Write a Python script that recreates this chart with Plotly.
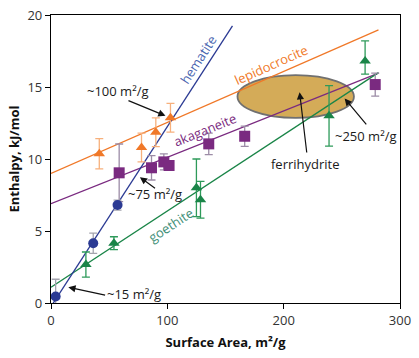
import plotly.graph_objects as go

# ---------------- data ----------------
hem_x = [4.0, 36.3, 57.2]
hem_y = [0.45, 4.15, 6.8]
hem_err = [1.2, 0.7, 0.35]

lep_x = [41.5, 77.8, 90.1, 102.7]
lep_y = [10.36, 10.8, 11.86, 12.86]
lep_err = [1.05, 1.0, 1.0, 1.0]

aka_x = [58.6, 86.4, 97.0, 101.5, 135.6, 166.5, 278.7]
aka_y = [9.04, 9.39, 9.8, 9.55, 11.05, 11.58, 15.17]
aka_err = [2.0, 0.85, 0.55, 0.3, 0.75, 0.7, 0.8]

goe_x = [30.0, 54.1, 125.0, 128.5, 239.0, 270.0]
goe_y = [2.67, 4.15, 8.0, 7.17, 13.0, 16.8]
goe_err_plus = [0.87, 0.45, 2.0, 1.27, 2.1, 1.4]
goe_err_minus = [0.87, 0.45, 2.0, 1.27, 2.1, 0.9]

# fitted lines (end points)
hem_fit_x = [0, 156]
hem_fit_y = [-0.25, 19.25]
lep_fit_x = [0, 281.5]
lep_fit_y = [9.0, 18.97]
aka_fit_x = [0, 281.5]
aka_fit_y = [6.9, 15.96]
goe_fit_x = [0, 281.5]
goe_fit_y = [1.1, 16.0]

# ferrihydrite region (ellipse bounds)
fh_x = [160.3, 260.4]
fh_y = [12.85, 15.83]

x_ticks = [0, 100, 200, 300]
y_ticks = [0, 5, 10, 15, 20]

# ---------------- style ----------------
C_HEM = "#2b3a93"
C_LEP = "#f07828"
C_AKA = "#7a2a80"
C_GOE = "#1a8548"
FONT = "Open Sans"

fig = go.Figure()

# lines
for fx, fy, c in [(lep_fit_x, lep_fit_y, C_LEP), (aka_fit_x, aka_fit_y, C_AKA),
                  (goe_fit_x, goe_fit_y, C_GOE), (hem_fit_x, hem_fit_y, C_HEM)]:
    fig.add_trace(go.Scatter(x=fx, y=fy, mode="lines",
                             line=dict(color=c, width=1.3), hoverinfo="skip"))

# points
fig.add_trace(go.Scatter(x=lep_x, y=lep_y, mode="markers",
                         marker=dict(symbol="triangle-up", size=10, color=C_LEP),
                         error_y=dict(type="data", array=lep_err, color="#f7b07c",
                                      thickness=1.3, width=4)))
fig.add_trace(go.Scatter(x=aka_x, y=aka_y, mode="markers",
                         marker=dict(symbol="square", size=11, color=C_AKA),
                         error_y=dict(type="data", array=aka_err, color="#9c8ca6",
                                      thickness=1.3, width=4)))
fig.add_trace(go.Scatter(x=goe_x, y=goe_y, mode="markers",
                         marker=dict(symbol="triangle-up", size=10, color=C_GOE),
                         error_y=dict(type="data", symmetric=False, array=goe_err_plus,
                                      arrayminus=goe_err_minus, color="#2e9a5a",
                                      thickness=1.3, width=4)))
fig.add_trace(go.Scatter(x=hem_x, y=hem_y, mode="markers",
                         marker=dict(symbol="circle", size=10, color=C_HEM),
                         error_y=dict(type="data", array=hem_err, color="#a4a4ae",
                                      thickness=1.3, width=4)))

# ferrihydrite ellipse
fig.add_shape(type="circle", xref="x", yref="y",
              x0=fh_x[0], x1=fh_x[1], y0=fh_y[0], y1=fh_y[1],
              fillcolor="#d4ab58", line=dict(color="#707070", width=1.8),
              layer="below")

# rotated labels
labels = [
    ("hematite", 126.2, 16.9, -57, "#4a66b0"),
    ("lepidocrocite", 188.8, 16.5, -24, C_LEP),
    ("akaganeite", 132.0, 12.0, -22, C_AKA),
    ("goethite", 103.0, 5.4, -33, "#3f8f78"),
]
for t, x, y, a, c in labels:
    fig.add_annotation(x=x, y=y, text=t, showarrow=False, textangle=a,
                       font=dict(family=FONT, size=13, color=c))

# arrow annotations: text, text pos, arrow tail, arrow head
arrows = [
    ("~100 m²/g", (57.5, 14.75), (65.3, 14.1), (98.4, 13.0)),
    ("~75 m²/g", (89.7, 7.6), (90.7, 7.9), (76.4, 8.74)),
    ("~15 m²/g", (71.3, 0.64), (47.8, 0.52), (14.9, 1.1)),
    ("~250 m²/g", (270.4, 11.6), (272.1, 12.3), (252.4, 14.2)),
    ("ferrihydrite", (218.5, 9.66), (220.0, 10.35), (213.7, 14.64)),
]
for t, (tx, ty), (ax, ay), (hx, hy) in arrows:
    fig.add_annotation(x=tx, y=ty, text=t, showarrow=False,
                       font=dict(family=FONT, size=13, color="#1a1a1a"))
    fig.add_annotation(x=hx, y=hy, ax=ax, ay=ay, xref="x", yref="y",
                       axref="x", ayref="y", text="", showarrow=True,
                       arrowhead=2, arrowsize=1.2, arrowwidth=1.2,
                       arrowcolor="#111111")

axis_common = dict(showgrid=False, zeroline=False, showline=True, linecolor="black",
                   linewidth=1.3, mirror=True, ticks="outside", ticklen=5,
                   tickcolor="black", automargin=False,
                   tickfont=dict(family=FONT, size=13, color="#333333"))

fig.update_xaxes(range=[0, 300], tickvals=x_ticks,
                 title=dict(text="<b>Surface Area, m²/g</b>", standoff=10,
                            font=dict(family=FONT, size=13, color="#111111")),
                 **axis_common)
fig.update_yaxes(range=[0, 20], tickvals=y_ticks,
                 title=dict(text="<b>Enthalpy, kJ/mol</b>", standoff=4,
                            font=dict(family=FONT, size=13, color="#111111")),
                 **axis_common)

fig.update_layout(width=419, height=358, showlegend=False,
                  margin=dict(l=51, r=19, t=15, b=55),
                  plot_bgcolor="white", paper_bgcolor="white")

fig.write_html("out.html", config={"displayModeBar": False},
               post_script="document.body.style.margin='0';")
